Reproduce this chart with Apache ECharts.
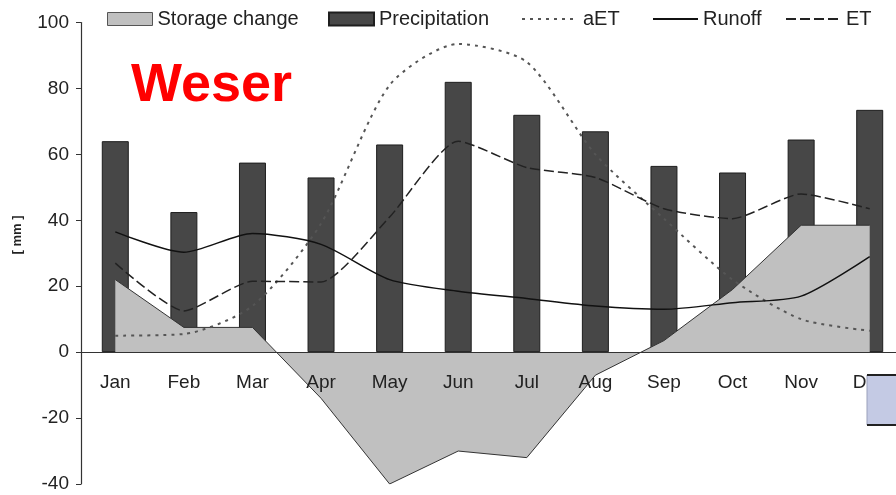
<!DOCTYPE html>
<html>
<head>
<meta charset="utf-8">
<script src="https://cdn.jsdelivr.net/npm/echarts@6/dist/echarts.min.js"></script>
<style>
    html, body { margin: 0; padding: 0; background: #fff; }
    #chart { width: 896px; height: 495px; }
</style>
</head>
<body>
<div id="chart"></div>
<script>
// monthly water balance, Weser (mm)
let months = ['Jan', 'Feb', 'Mar', 'Apr', 'May', 'Jun', 'Jul', 'Aug', 'Sep', 'Oct', 'Nov', 'Dec'];
let storageChange = [22, 7.5, 7.5, -14, -40, -30, -32, -7, 3.5, 19, 38.5, 38.5];
let precipitation = [64, 42.5, 57.5, 53, 63, 82, 72, 67, 56.5, 54.5, 64.5, 73.5];
let aET = [5, 5.5, 14, 39, 81, 93.5, 88, 60, 40.5, 22, 10, 6.5];
let runoff = [36.5, 30.3, 36, 32.7, 22, 18.5, 16.3, 14, 13, 15, 17, 29];
let ET = [27, 12.5, 21.5, 21.3, 41, 64, 56, 53, 43.5, 40.5, 48, 43.5];
let yTicks = { min: -40, max: 100, step: 20 };

let font = "'Liberation Sans', Arial, sans-serif";
let txt = '#222';

function legendItem (name, left, w, h, extra) {
    return Object.assign({
        data: [name],
        left: left,
        top: 9,
        padding: 0,
        itemWidth: w,
        itemHeight: h,
        itemGap: 0,
        textStyle: { fontSize: 20, color: txt, fontFamily: font }
    }, extra || {})
}

let myc = echarts.init(document.getElementById('chart'));
let options = {
    animation: false,
    title: {
        text: 'Weser',
        left: 126,
        top: 54,
        textStyle: { color: '#ff0000', fontSize: 54, fontWeight: 'bold', fontFamily: font }
    },
    legend: [
        legendItem('Storage change', 107, 45, 13, { icon: 'rect', itemStyle: { color: '#c0c0c0', borderColor: '#555', borderWidth: 1 } }),
        legendItem('Precipitation', 328, 45, 13, { icon: 'rect' }),
        legendItem('aET', 521, 56, 13, { itemStyle: { opacity: 0 } }),
        legendItem('Runoff', 652, 45, 13, { itemStyle: { opacity: 0 } }),
        legendItem('ET', 785, 55, 13, { itemStyle: { opacity: 0 } })
    ],
    grid: { left: 81, right: -8, top: 22.5, bottom: 11, outerBoundsMode: 'none' },
    xAxis: {
        type: 'category',
        data: months,
        offset: -132,
        z: 5,
        axisLine: { onZero: false, lineStyle: { color: '#333', width: 1.2 } },
        axisTick: { length: 5, lineStyle: { color: '#333' } },
        axisLabel: { fontSize: 19, color: txt, fontFamily: font, margin: 21 }
    },
    yAxis: {
        type: 'value',
        min: yTicks.min,
        max: yTicks.max,
        interval: yTicks.step,
        splitLine: { show: false },
        axisLine: { show: true, lineStyle: { color: '#333', width: 1.2 } },
        axisTick: { show: true, length: 5, lineStyle: { color: '#333' } },
        axisLabel: { fontSize: 19, color: txt, fontFamily: font, margin: 12 }
    },
    graphic: [
        {
            type: 'text',
            x: 17, y: 235,
            rotation: Math.PI / 2,
            style: { text: '[ mm ]', fontSize: 13, fontWeight: 'bold', fill: txt, fontFamily: font, align: 'center', verticalAlign: 'middle' }
        },
        { type: 'rect', z: 10, shape: { x: 867, y: 375, width: 40, height: 50 }, style: { fill: '#c4cae4', stroke: '#9aa0bb', lineWidth: 1 } },
        { type: 'line', z: 10, shape: { x1: 867, y1: 375, x2: 896, y2: 375 }, style: { stroke: '#222', lineWidth: 2 } },
        { type: 'line', z: 10, shape: { x1: 867, y1: 425, x2: 896, y2: 425 }, style: { stroke: '#222', lineWidth: 2 } }
    ],
    series: [
        {
            name: 'Storage change',
            type: 'line',
            data: storageChange,
            symbol: 'none',
            lineStyle: { color: '#333', width: 1 },
            itemStyle: { color: '#c0c0c0' },
            areaStyle: { color: '#c0c0c0', opacity: 1 }
        },
        {
            name: 'Precipitation',
            type: 'bar',
            data: precipitation,
            barWidth: 27,
            itemStyle: { color: '#474747', borderColor: '#1e1e1e', borderWidth: 1 }
        },
        {
            name: 'aET',
            type: 'line',
            data: aET,
            symbol: 'none',
            smooth: 0.25,
            itemStyle: { color: '#555' },
            lineStyle: { color: '#555', width: 2, type: [3, 5] }
        },
        {
            name: 'Runoff',
            type: 'line',
            data: runoff,
            symbol: 'none',
            smooth: 0.25,
            itemStyle: { color: '#111' },
            lineStyle: { color: '#111', width: 1.5 }
        },
        {
            name: 'ET',
            type: 'line',
            data: ET,
            symbol: 'none',
            smooth: 0.2,
            itemStyle: { color: '#222' },
            lineStyle: { color: '#222', width: 1.5, type: [10, 4] }
        }
    ]
};
myc.setOption(options);
</script>
</body>
</html>
